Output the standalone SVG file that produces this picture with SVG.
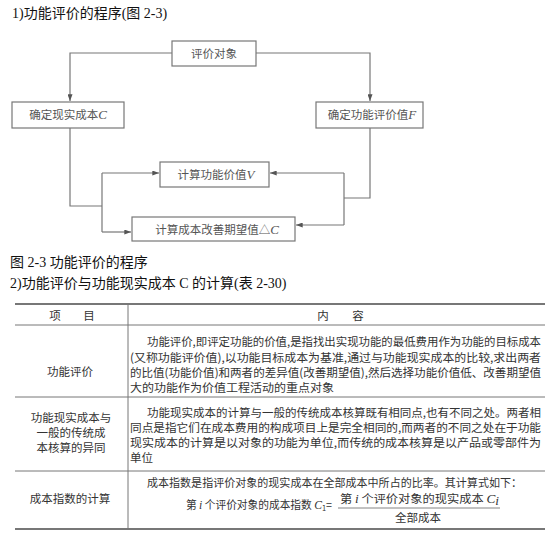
<svg xmlns="http://www.w3.org/2000/svg" width="552" height="536" viewBox="0 0 552 536">
<style>
.ttl{font-family:"Liberation Serif","Noto Sans CJK SC",serif;font-size:14px;fill:#111}
.box{fill:#fff;stroke:#777;stroke-width:1.2}
.nt{font-family:"Noto Sans CJK SC","Noto Sans CJK TC",sans-serif;font-size:11.5px;fill:#555;text-anchor:middle}
.it{font-family:"Liberation Serif",serif;font-style:italic;font-size:13px}
.con{fill:none;stroke:#777;stroke-width:1.2}
.rule{stroke:#777;fill:none}
.tb{font-family:"Noto Sans CJK SC","Noto Sans CJK TC",sans-serif;font-size:11.5px;fill:#333}
.tc{text-anchor:middle}
.mi{font-family:"Liberation Serif",serif;font-style:italic;font-size:12.5px}
</style>
<defs>
<marker id="ah" viewBox="0 0 8 6" refX="8" refY="3" markerWidth="7" markerHeight="5" orient="auto" markerUnits="userSpaceOnUse"><path d="M0,0 L8,3 L0,6 z" fill="#555"/></marker>
</defs>
<rect width="552" height="536" fill="#fff"/>

<text class="ttl" x="12" y="18">1)功能评价的程序(图 2-3)</text>

<g id="connectors">
<path class="con" d="M172,53 H70 V101" marker-end="url(#ah)"/>
<path class="con" d="M256,53 H370 V101" marker-end="url(#ah)"/>
<path class="con" d="M70,128 V206 H102"/>
<path class="con" d="M102,173 V232"/>
<path class="con" d="M102,173 H159" marker-end="url(#ah)"/>
<path class="con" d="M102,232 H131" marker-end="url(#ah)"/>
<path class="con" d="M370,128 V198 H344"/>
<path class="con" d="M344,173 V225"/>
<path class="con" d="M344,173 H270" marker-end="url(#ah)"/>
<path class="con" d="M344,225 H296" marker-end="url(#ah)"/>
</g>

<g id="n-object"><rect class="box" x="172" y="41" width="84" height="25"/><text class="nt" x="214" y="57.5">评价对象</text></g>
<g id="n-cost"><rect class="box" x="12" y="102" width="112" height="26"/><text class="nt" x="68" y="119">确定现实成本<tspan class="it">C</tspan></text></g>
<g id="n-func"><rect class="box" x="316" y="102" width="107" height="26"/><text class="nt" x="372" y="119">确定功能评价值<tspan class="it">F</tspan></text></g>
<g id="n-value"><rect class="box" x="160" y="162" width="109" height="25"/><text class="nt" x="216" y="179">计算功能价值<tspan class="it">V</tspan></text></g>
<g id="n-delta"><rect class="box" x="132" y="217" width="163" height="24"/><text class="nt" x="217" y="233.5">计算成本改善期望值△<tspan class="it">C</tspan></text></g>

<text class="ttl" x="10" y="267">图 2-3 功能评价的程序</text>
<text class="ttl" x="10" y="288">2)功能评价与功能现实成本 C 的计算(表 2-30)</text>

<g id="table">
<line class="rule" x1="15" y1="304" x2="545" y2="304" stroke-width="1.8"/>
<line class="rule" x1="15" y1="325" x2="545" y2="325" stroke-width="1"/>
<line class="rule" x1="15" y1="397" x2="545" y2="397" stroke-width="1"/>
<line class="rule" x1="15" y1="471" x2="545" y2="471" stroke-width="1"/>
<line class="rule" x1="15" y1="529" x2="545" y2="529" stroke-width="1.8"/>
<line class="rule" x1="128" y1="304" x2="128" y2="529" stroke-width="1"/>

<text class="tb tc" x="55" y="320">项</text>
<text class="tb tc" x="89" y="320">目</text>
<text class="tb tc" x="323" y="320">内</text>
<text class="tb tc" x="358" y="320">容</text>

<text class="tb tc" x="70" y="376">功能评价</text>
<text class="tb" x="147" y="346" textLength="394" lengthAdjust="spacingAndGlyphs">功能评价,即评定功能的价值,是指找出实现功能的最低费用作为功能的目标成本</text>
<text class="tb" x="130" y="362" textLength="411" lengthAdjust="spacingAndGlyphs">(又称功能评价值),以功能目标成本为基准,通过与功能现实成本的比较,求出两者</text>
<text class="tb" x="130" y="377" textLength="411" lengthAdjust="spacingAndGlyphs">的比值(功能价值)和两者的差异值(改善期望值),然后选择功能价值低、改善期望值</text>
<text class="tb" x="130" y="392" textLength="204" lengthAdjust="spacingAndGlyphs">大的功能作为价值工程活动的重点对象</text>

<text class="tb tc" x="71" y="422">功能现实成本与</text>
<text class="tb tc" x="71" y="437">一般的传统成</text>
<text class="tb tc" x="71" y="452">本核算的异同</text>
<text class="tb" x="147" y="417" textLength="394" lengthAdjust="spacingAndGlyphs">功能现实成本的计算与一般的传统成本核算既有相同点,也有不同之处。两者相</text>
<text class="tb" x="130" y="432" textLength="411" lengthAdjust="spacingAndGlyphs">同点是指它们在成本费用的构成项目上是完全相同的,而两者的不同之处在于功能</text>
<text class="tb" x="130" y="447" textLength="411" lengthAdjust="spacingAndGlyphs">现实成本的计算是以对象的功能为单位,而传统的成本核算是以产品或零部件为</text>
<text class="tb" x="130" y="462">单位</text>

<text class="tb tc" x="70" y="503">成本指数的计算</text>
<text class="tb" x="147" y="487" textLength="375" lengthAdjust="spacingAndGlyphs">成本指数是指评价对象的现实成本在全部成本中所占的比率。其计算式如下：</text>
<text class="tb" x="186" y="509" textLength="146" lengthAdjust="spacingAndGlyphs">第 <tspan class="mi">i</tspan> 个评价对象的成本指数 <tspan class="mi">C</tspan><tspan font-size="8" dy="2">1</tspan><tspan dy="-2">=</tspan></text>
<text class="tb" x="340" y="503" font-size="11" textLength="159" lengthAdjust="spacingAndGlyphs">第 <tspan class="mi">i</tspan> 个评价对象的现实成本 <tspan class="mi">C</tspan><tspan class="mi" font-size="8" dy="2">i</tspan></text>
<line class="rule" x1="338" y1="508" x2="500" y2="508" stroke-width="0.9"/>
<text class="tb tc" x="418" y="522">全部成本</text>
</g>
</svg>
